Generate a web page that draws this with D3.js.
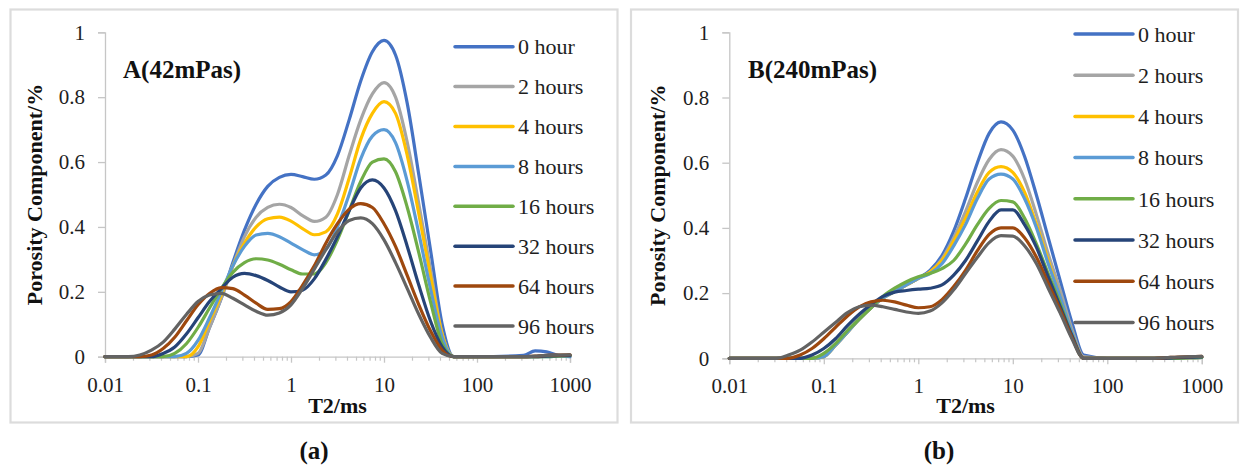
<!DOCTYPE html>
<html>
<head>
<meta charset="utf-8">
<script src="https://cdn.jsdelivr.net/npm/d3@7"></script>
<style>
  html, body { margin: 0; padding: 0; background: #fff; }
  svg { display: block; }
</style>
</head>
<body>
<svg id="chart" width="1246" height="468"></svg>
<script>
// ---------------- data ----------------
const t2 = [0.01, 0.0178, 0.0237, 0.0316, 0.0422, 0.0562, 0.075, 0.1, 0.133, 0.178, 0.237, 0.316, 0.422, 0.562, 0.75,
            1, 1.33, 1.78, 2.37, 3.16, 4.22, 5.62, 7.5, 10, 13.3, 17.8, 23.7, 31.6, 42.2, 56.2, 100, 316, 422, 562, 750, 1000];

const seriesNames = ["0 hour", "2 hours", "4 hours", "8 hours", "16 hours", "32 hours", "64 hours", "96 hours"];

const xTickLabels = [0.01, 0.1, 1, 10, 100, 1000];
const yTickLabels = [0, 0.2, 0.4, 0.6, 0.8, 1];

const panelTitles = ["A(42mPas)", "B(240mPas)"];
const panelCaptions = ["(a)", "(b)"];

// Panel A (42 mPas)
const aHour0  = [0,0,0,0,0,0,0,0.005,0.09,0.18,0.29,0.39,0.47,0.525,0.553,0.562,0.555,0.547,0.56,0.62,0.73,0.85,0.94,0.975,0.93,0.78,0.56,0.33,0.10,0,0,0.004,0.018,0.015,0.004,0];
const aHour2  = [0,0,0,0,0,0,0,0.01,0.09,0.18,0.28,0.37,0.43,0.46,0.47,0.46,0.435,0.417,0.43,0.50,0.62,0.73,0.81,0.845,0.80,0.66,0.47,0.27,0.07,0,0,0,0,0.002,0.003,0.004];
const aHour4  = [0,0,0,0,0,0,0,0.03,0.11,0.19,0.28,0.35,0.40,0.425,0.43,0.418,0.395,0.376,0.385,0.44,0.55,0.67,0.75,0.786,0.75,0.62,0.44,0.25,0.07,0,0,0,0,0.002,0.003,0.004];
const aHour8  = [0,0,0,0,0,0,0.01,0.05,0.12,0.20,0.28,0.34,0.375,0.38,0.37,0.35,0.33,0.314,0.33,0.40,0.50,0.61,0.68,0.70,0.66,0.54,0.38,0.21,0.06,0,0,0,0,0,0.002,0.003];
const aHour16 = [0,0,0,0,0,0.01,0.04,0.09,0.15,0.21,0.26,0.29,0.302,0.298,0.285,0.268,0.255,0.255,0.29,0.36,0.45,0.54,0.60,0.61,0.57,0.46,0.32,0.17,0.04,0,0,0,0,0,0.002,0.003];
const aHour32 = [0,0,0,0,0.01,0.03,0.07,0.12,0.17,0.21,0.245,0.257,0.25,0.235,0.215,0.20,0.205,0.24,0.30,0.37,0.45,0.52,0.545,0.52,0.45,0.34,0.22,0.11,0.03,0,0,0,0,0.002,0.003,0.004];
const aHour64 = [0,0,0,0.005,0.025,0.06,0.11,0.16,0.195,0.213,0.21,0.19,0.165,0.146,0.148,0.17,0.22,0.28,0.35,0.41,0.455,0.472,0.46,0.41,0.34,0.25,0.16,0.08,0.02,0,0,0,0.002,0.004,0.005,0.006];
const aHour96 = [0,0,0.005,0.02,0.045,0.085,0.13,0.17,0.19,0.195,0.18,0.16,0.14,0.128,0.135,0.16,0.21,0.27,0.33,0.385,0.42,0.428,0.41,0.36,0.29,0.21,0.13,0.06,0.01,0,0,0,0.002,0.004,0.005,0.006];

// Panel B (240 mPas)
const bHour0  = [0,0,0,0,0,0,0,0.005,0.04,0.08,0.12,0.155,0.185,0.205,0.225,0.245,0.27,0.315,0.39,0.49,0.60,0.69,0.725,0.70,0.62,0.50,0.37,0.24,0.11,0.01,0,0,0,0,0.002,0.003];
const bHour2  = [0,0,0,0,0,0,0,0.005,0.04,0.08,0.12,0.155,0.185,0.205,0.225,0.245,0.265,0.305,0.37,0.45,0.54,0.61,0.64,0.62,0.55,0.44,0.32,0.21,0.09,0.005,0,0,0,0,0.002,0.003];
const bHour4  = [0,0,0,0,0,0,0,0.005,0.04,0.08,0.12,0.155,0.185,0.205,0.225,0.245,0.265,0.30,0.36,0.43,0.51,0.57,0.588,0.57,0.51,0.41,0.30,0.19,0.08,0,0,0,0,0,0.002,0.003];
const bHour8  = [0,0,0,0,0,0,0,0.005,0.04,0.08,0.12,0.155,0.185,0.205,0.225,0.245,0.26,0.29,0.345,0.41,0.49,0.55,0.565,0.55,0.49,0.40,0.29,0.19,0.08,0,0,0,0,0,0.002,0.003];
const bHour16 = [0,0,0,0,0,0,0,0.015,0.045,0.085,0.12,0.155,0.19,0.215,0.235,0.25,0.26,0.275,0.30,0.35,0.41,0.46,0.484,0.48,0.43,0.35,0.26,0.17,0.07,0,0,0,0,0,0.002,0.003];
const bHour32 = [0,0,0,0,0,0,0.01,0.03,0.06,0.10,0.135,0.165,0.19,0.203,0.208,0.212,0.215,0.225,0.255,0.30,0.36,0.42,0.455,0.455,0.41,0.34,0.25,0.16,0.07,0,0,0,0,0.002,0.003,0.004];
const bHour64 = [0,0,0,0,0,0.01,0.03,0.06,0.095,0.13,0.158,0.173,0.178,0.173,0.163,0.155,0.158,0.18,0.22,0.27,0.33,0.38,0.40,0.40,0.37,0.31,0.23,0.15,0.065,0,0,0,0.002,0.004,0.005,0.006];
const bHour96 = [0,0,0,0,0.01,0.025,0.05,0.08,0.11,0.14,0.158,0.163,0.158,0.15,0.142,0.138,0.145,0.17,0.21,0.26,0.31,0.355,0.376,0.375,0.345,0.29,0.215,0.14,0.06,0,0,0,0.002,0.004,0.005,0.006];

const panelASeries = [aHour0, aHour2, aHour4, aHour8, aHour16, aHour32, aHour64, aHour96];
const panelBSeries = [bHour0, bHour2, bHour4, bHour8, bHour16, bHour32, bHour64, bHour96];

// ---------------- styles / layout ----------------
const colors = ["#4472C4", "#A5A5A5", "#FFC000", "#5B9BD5", "#70AD47", "#264478", "#9E480E", "#636363"];
const FONT = '"Liberation Serif", "Times New Roman", Times, serif';

const layouts = [
  { series: panelASeries, box: [10.5, 9.5, 607, 413], x0: 105, x1: 570, y0: 356.7, y1: 32.3,
    yTitleX: 42, titleX: 123, legendLineX: 455, legendTextX: 518, legendY0: 46.7, legendStep: 39.9, captionX: 314 },
  { series: panelBSeries, box: [631, 9.5, 607, 413], x0: 729.3, x1: 1201.8, y0: 358.3, y1: 32.3,
    yTitleX: 665, titleX: 748, legendLineX: 1075, legendTextX: 1138, legendY0: 34, legendStep: 41.2, captionX: 939 }
];

const svg = d3.select("#chart");
const axisColor = "#c6c6c6";
const textColor = "#1e1e1e";

const minorTicks = [];
for (let e = -2; e < 3; e++) for (let m = 2; m <= 9; m++) minorTicks.push(m * Math.pow(10, e));

layouts.forEach((L, pi) => {
  const g = svg.append("g");
  g.append("rect").attr("x", L.box[0]).attr("y", L.box[1]).attr("width", L.box[2]).attr("height", L.box[3])
    .attr("fill", "none").attr("stroke", "#dcdcdc").attr("stroke-width", 2.2);

  const x = d3.scaleLog().domain([0.01, 1000]).range([L.x0, L.x1]);
  const y = d3.scaleLinear().domain([0, 1]).range([L.y0, L.y1]);

  const yAxis = g.append("g").attr("transform", `translate(${L.x0},0)`)
    .call(d3.axisLeft(y).tickValues(yTickLabels).tickSize(7).tickPadding(13)
      .tickFormat(d => d === 0 ? "0" : d === 1 ? "1" : d3.format(".1f")(d)));
  yAxis.select(".domain").attr("stroke", axisColor).attr("stroke-width", 1.3);
  yAxis.selectAll(".tick line").attr("stroke", axisColor).attr("stroke-width", 1.3);
  yAxis.selectAll(".tick text").attr("fill", textColor).style("font-size", "21px").style("font-family", FONT);

  const xAxis = g.append("g").attr("transform", `translate(0,${L.y0})`)
    .call(d3.axisBottom(x).tickValues(xTickLabels).tickSize(6).tickPadding(14).tickFormat(d => String(d)));
  xAxis.select(".domain").attr("stroke", axisColor).attr("stroke-width", 1.3);
  xAxis.selectAll(".tick line").attr("stroke", axisColor).attr("stroke-width", 1.3);
  xAxis.selectAll(".tick text").attr("fill", textColor).style("font-size", "21px").style("font-family", FONT);

  const xMinor = g.append("g").attr("transform", `translate(0,${L.y0})`)
    .call(d3.axisBottom(x).tickValues(minorTicks).tickSize(4).tickFormat(""));
  xMinor.select(".domain").remove();
  xMinor.selectAll(".tick line").attr("stroke", axisColor).attr("stroke-width", 1.2);

  g.append("text")
    .attr("transform", `translate(${L.yTitleX},${(L.y0 + L.y1) / 2}) rotate(-90)`)
    .attr("text-anchor", "middle").style("font-family", FONT).style("font-weight", "bold").style("font-size", "22px")
    .attr("fill", "#111").text("Porosity Component/%");
  g.append("text")
    .attr("x", (L.x0 + L.x1) / 2).attr("y", 413)
    .attr("text-anchor", "middle").style("font-family", FONT).style("font-weight", "bold").style("font-size", "22px")
    .attr("fill", "#111").text("T2/ms");

  g.append("text").attr("x", L.titleX).attr("y", 78)
    .style("font-family", FONT).style("font-weight", "bold").style("font-size", "25px")
    .attr("fill", "#111").text(panelTitles[pi]);

  g.append("text").attr("x", L.captionX).attr("y", 459).attr("text-anchor", "middle")
    .style("font-family", FONT).style("font-weight", "bold").style("font-size", "25px")
    .attr("fill", "#111").text(panelCaptions[pi]);

  const line = d3.line()
    .x((d, i) => x(t2[i]))
    .y(d => y(d))
    .curve(d3.curveMonotoneX);
  L.series.forEach((vals, si) => {
    g.append("path").datum(vals).attr("d", line)
      .attr("fill", "none").attr("stroke", colors[si]).attr("stroke-width", 3.2)
      .attr("stroke-linejoin", "round").attr("stroke-linecap", "round");
  });

  seriesNames.forEach((name, si) => {
    const ly = L.legendY0 + si * L.legendStep;
    g.append("line").attr("x1", L.legendLineX).attr("x2", L.legendLineX + 58).attr("y1", ly).attr("y2", ly)
      .attr("stroke", colors[si]).attr("stroke-width", 3.5).attr("stroke-linecap", "round");
    g.append("text").attr("x", L.legendTextX).attr("y", ly).attr("dy", "0.35em")
      .style("font-family", FONT).style("font-size", "22px").attr("fill", textColor).text(name);
  });
});
</script>
</body>
</html>
